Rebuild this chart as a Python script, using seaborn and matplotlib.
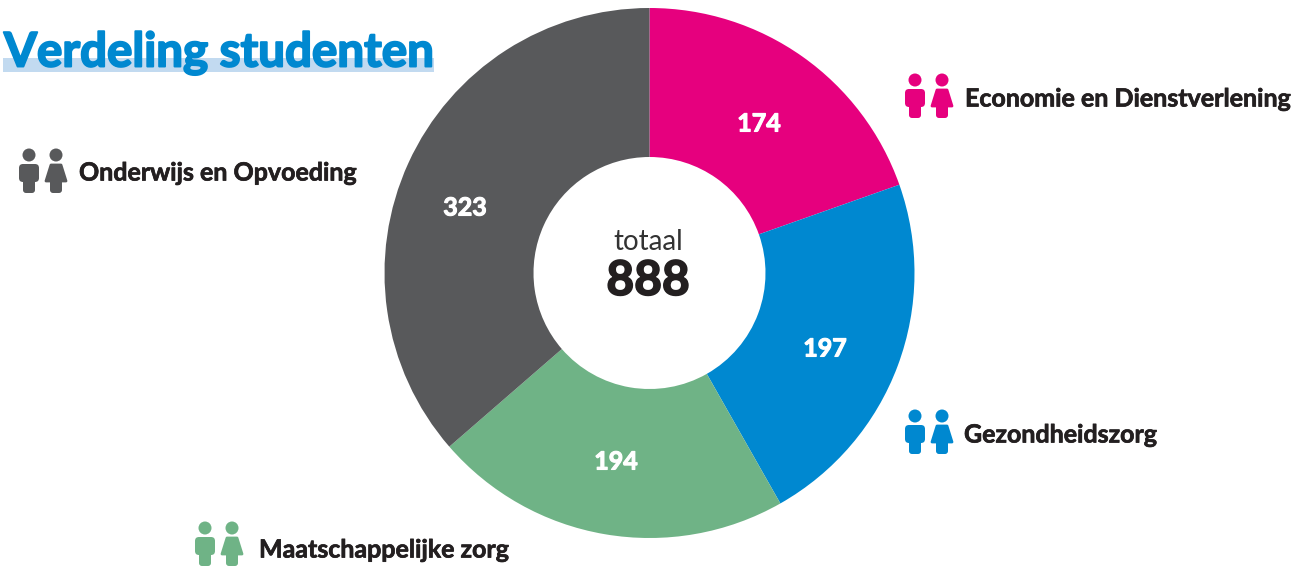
import matplotlib
matplotlib.use("Agg")
from matplotlib import pyplot as plt
from matplotlib.patches import Circle, FancyBboxPatch, Polygon, Rectangle
import matplotlib.patheffects as pe
import seaborn as sns

categories = ["Economie en Dienstverlening", "Gezondheidszorg", "Maatschappelijke zorg", "Onderwijs en Opvoeding"]
students = [174, 197, 194, 323]
total_label = "888"
colors = ["#E6007E", "#0088D0", "#6FB386", "#58595B"]

W, H = 1294, 568
DARK = "#231F20"
# icon left edge / top, label left edge / middle, all in image pixels
legend_pos = [(905, 72, 965, 99), (905, 408, 964, 435), (195, 520, 259, 550), (19, 147, 79, 173)]
value_pos = [(759, 124), (825, 349), (616, 462), (465, 208)]


def icon(ax, x, y, color):
    # man
    ax.add_patch(Circle((x + 10, H - y - 8), 6.5, color=color, lw=0))
    ax.add_patch(FancyBboxPatch((x, H - y - 35), 20, 18, boxstyle="round,pad=0,rounding_size=4",
                                color=color, lw=0))
    ax.add_patch(FancyBboxPatch((x + 4, H - y - 46), 12, 20, boxstyle="round,pad=0,rounding_size=3",
                                color=color, lw=0))
    # woman
    cx = x + 37
    ax.add_patch(Circle((cx, H - y - 8), 6.5, color=color, lw=0))
    ax.add_patch(Polygon([(cx - 5, H - y - 18), (cx + 5, H - y - 18), (cx + 10, H - y - 34),
                          (cx - 10, H - y - 34)],
                         closed=True, facecolor=color, edgecolor=color, lw=2, joinstyle="round"))
    ax.add_patch(FancyBboxPatch((cx - 6, H - y - 46), 12, 14, boxstyle="round,pad=0,rounding_size=3",
                                color=color, lw=0))


def heavy(t, w=0.6):
    t.set_path_effects([pe.withStroke(linewidth=w, foreground=t.get_color())])


sns.set_theme(style="white")
plt.rcParams["font.family"] = ["Lato", "DejaVu Sans"]
palette = sns.color_palette(colors)

fig = plt.figure(figsize=(W / 100, H / 100), dpi=100)
ax = fig.add_axes([0, 0, 1, 1])

wedges, _, values = ax.pie(students, colors=palette, startangle=90, counterclock=False,
                           center=(649.5, H - 273), radius=265, pctdistance=0.72,
                           wedgeprops={"width": 149, "linewidth": 0},
                           autopct=lambda p: "%d" % round(p * sum(students) / 100))
for t, (x, y) in zip(values, value_pos):
    t.set(color="white", fontsize=18, fontweight="bold", va="center", ha="center", position=(x, H - y))
    heavy(t, 0.8)

ax.set_xlim(0, W)
ax.set_ylim(0, H)
ax.axis("off")

ax.add_patch(Rectangle((3, H - 72), 431, 14, color="#C2DAF0", lw=0, zorder=0))
title = ax.text(4, H - 66.5, "Verdeling studenten", color="#0088D0", fontsize=34.2, fontweight="bold",
                va="baseline", ha="left")
heavy(title, 1.4)

ax.text(648, H - 242, "totaal", color="#333333", fontsize=20, ha="center", va="center")
big = ax.text(648, H - 295, total_label, color=DARK, fontsize=34.5, fontweight="bold", ha="center", va="baseline")
heavy(big, 1.2)

for name, color, (ix, iy, tx, ty) in zip(categories, colors, legend_pos):
    icon(ax, ix, iy, color)
    lab = ax.text(tx, H - ty, name, color=DARK, fontsize=18, fontweight="bold", ha="left", va="center")
    heavy(lab, 0.5)

fig.savefig("out.png", dpi=100)
